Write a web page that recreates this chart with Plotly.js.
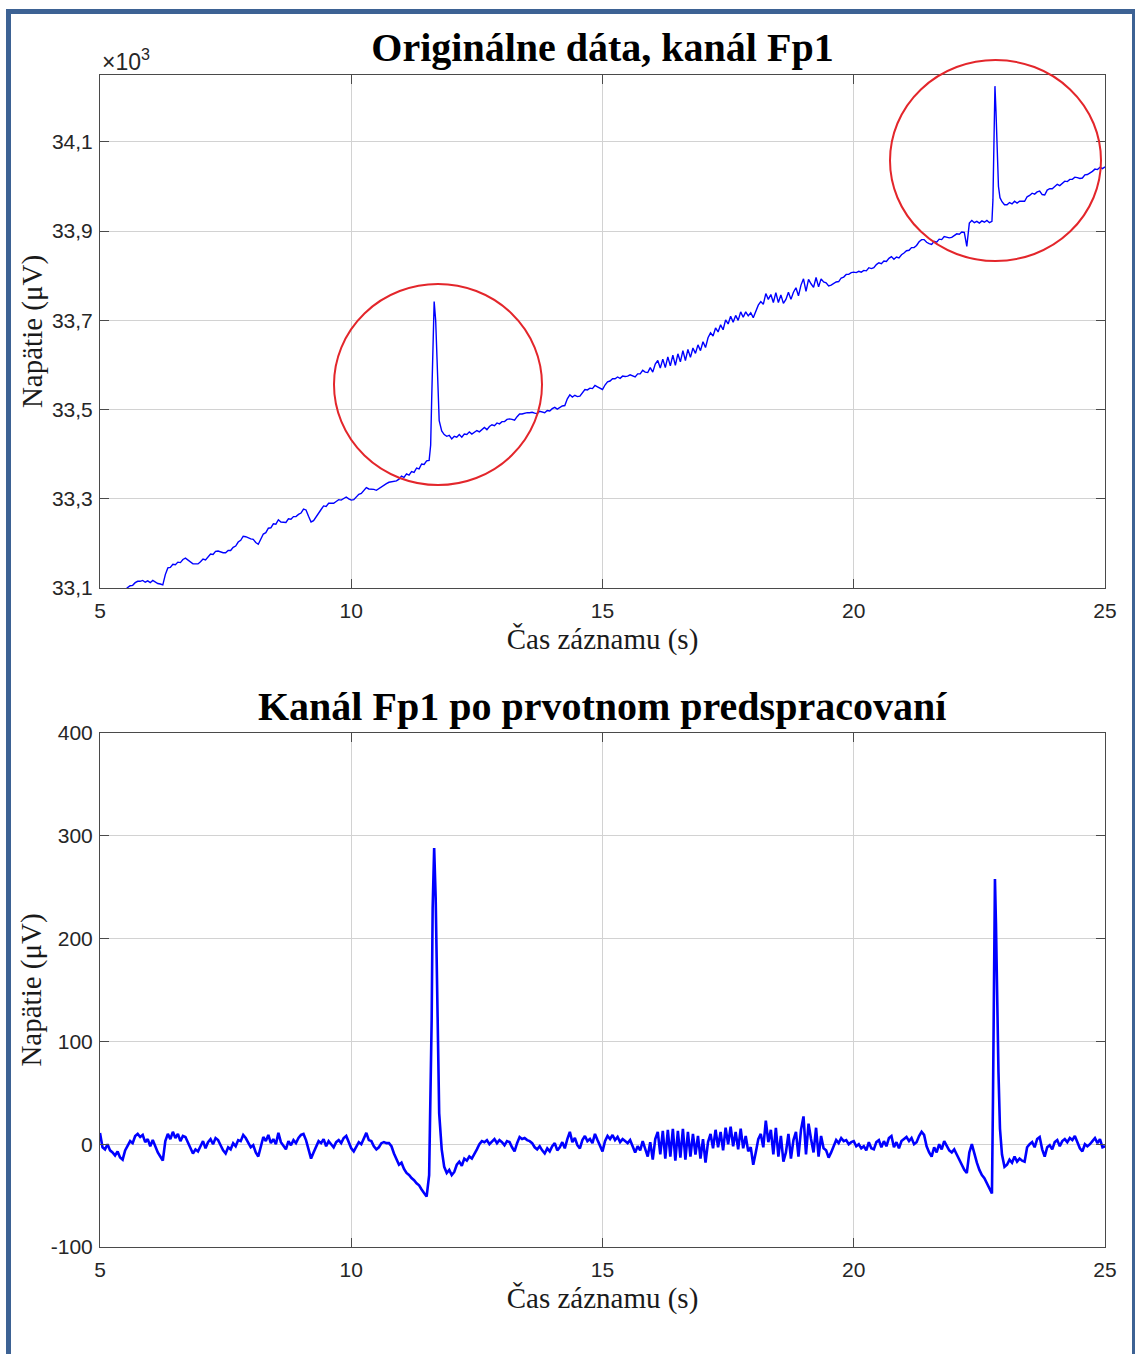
<!DOCTYPE html>
<html>
<head>
<meta charset="utf-8">
<script src="https://cdn.plot.ly/plotly-3.0.1.min.js"></script>
<style>
  html, body { margin: 0; padding: 0; background: #ffffff; }
  #chart { width: 1136px; height: 1354px; }
</style>
</head>
<body>
<div id="chart"></div>
<script>
// ---- time base (s) ----
const timeSec = [
  5,5.05,5.1,5.15,5.2,5.25,5.3,5.35,5.4,5.45,5.5,5.55,5.6,5.65,5.7,5.75,5.8,5.85,5.9,5.95,
  6,6.05,6.1,6.15,6.2,6.25,6.3,6.35,6.4,6.45,6.5,6.55,6.6,6.65,6.7,6.75,6.8,6.85,6.9,6.95,
  7,7.05,7.1,7.15,7.2,7.25,7.3,7.35,7.4,7.45,7.5,7.55,7.6,7.65,7.7,7.75,7.8,7.85,7.9,7.95,
  8,8.05,8.1,8.15,8.2,8.25,8.3,8.35,8.4,8.45,8.5,8.55,8.6,8.65,8.7,8.75,8.8,8.85,8.9,8.95,
  9,9.05,9.1,9.15,9.2,9.25,9.3,9.35,9.4,9.45,9.5,9.55,9.6,9.65,9.7,9.75,9.8,9.85,9.9,9.95,
  10,10.05,10.1,10.15,10.2,10.25,10.3,10.35,10.4,10.45,10.5,10.55,10.6,10.65,10.7,10.75,10.8,10.85,10.9,10.95,
  11,11.05,11.1,11.15,11.2,11.25,11.3,11.35,11.4,11.45,11.5,11.55,11.58,11.6,11.62,11.65,11.68,11.7,11.72,11.75,11.8,11.85,11.9,11.95,
  12,12.05,12.1,12.15,12.2,12.25,12.3,12.35,12.4,12.45,12.5,12.55,12.6,12.65,12.7,12.75,12.8,12.85,12.9,12.95,
  13,13.05,13.1,13.15,13.2,13.25,13.3,13.35,13.4,13.45,13.5,13.55,13.6,13.65,13.7,13.75,13.8,13.85,13.9,13.95,
  14,14.05,14.1,14.15,14.2,14.25,14.3,14.35,14.4,14.45,14.5,14.55,14.6,14.65,14.7,14.75,14.8,14.85,14.9,14.95,
  15,15.05,15.1,15.15,15.2,15.25,15.3,15.35,15.4,15.45,15.5,15.55,15.6,15.65,15.7,15.75,15.8,15.85,15.9,15.95,
  16,16.05,16.1,16.15,16.2,16.25,16.3,16.35,16.4,16.45,16.5,16.55,16.6,16.65,16.7,16.75,16.8,16.85,16.9,16.95,
  17,17.05,17.1,17.15,17.2,17.25,17.3,17.35,17.4,17.45,17.5,17.55,17.6,17.65,17.7,17.75,17.8,17.85,17.9,17.95,
  18,18.05,18.1,18.15,18.2,18.25,18.3,18.35,18.4,18.45,18.5,18.55,18.6,18.65,18.7,18.75,18.8,18.85,18.9,18.95,
  19,19.05,19.1,19.15,19.2,19.25,19.3,19.35,19.4,19.45,19.5,19.55,19.6,19.65,19.7,19.75,19.8,19.85,19.9,19.95,
  20,20.05,20.1,20.15,20.2,20.25,20.3,20.35,20.4,20.45,20.5,20.55,20.6,20.65,20.7,20.75,20.8,20.85,20.9,20.95,
  21,21.05,21.1,21.15,21.2,21.25,21.3,21.35,21.4,21.45,21.5,21.55,21.6,21.65,21.7,21.75,21.8,21.85,21.9,21.95,
  22,22.05,22.1,22.15,22.2,22.25,22.3,22.35,22.4,22.45,22.5,22.55,22.6,22.65,22.7,22.75,22.77,22.79,22.81,22.83,22.85,22.88,22.91,22.95,
  23,23.05,23.1,23.15,23.2,23.25,23.3,23.35,23.4,23.45,23.5,23.55,23.6,23.65,23.7,23.75,23.8,23.85,23.9,23.95,
  24,24.05,24.1,24.15,24.2,24.25,24.3,24.35,24.4,24.45,24.5,24.55,24.6,24.65,24.7,24.75,24.8,24.85,24.9,24.95,
  25
];

// ---- original data, channel Fp1 (x10^3 µV) ----
const rawFp1 = [
  33.083,33.076,33.076,33.083,33.081,33.082,33.082,33.088,33.086,33.087,33.096,33.101,33.105,33.106,33.112,33.115,33.115,33.117,33.113,33.116,
  33.112,33.117,33.113,33.110,33.109,33.107,33.130,33.145,33.146,33.153,33.152,33.158,33.157,33.164,33.167,33.163,33.158,33.154,33.154,33.154,
  33.159,33.165,33.163,33.170,33.176,33.175,33.182,33.183,33.181,33.179,33.179,33.184,33.184,33.191,33.194,33.203,33.207,33.216,33.215,33.212,
  33.210,33.209,33.202,33.198,33.208,33.221,33.224,33.234,33.235,33.244,33.243,33.253,33.248,33.248,33.247,33.255,33.254,33.260,33.260,33.265,
  33.268,33.277,33.275,33.261,33.248,33.251,33.260,33.270,33.276,33.284,33.283,33.290,33.290,33.290,33.294,33.298,33.297,33.301,33.304,33.300,
  33.297,33.298,33.304,33.310,33.312,33.319,33.325,33.322,33.322,33.321,33.319,33.323,33.328,33.331,33.334,33.337,33.338,33.338,33.340,33.344,
  33.351,33.348,33.356,33.353,33.361,33.359,33.369,33.367,33.378,33.377,33.385,33.386,33.420,33.520,33.640,33.742,33.700,33.620,33.540,33.475,33.452,33.444,33.440,33.442,
  33.434,33.440,33.438,33.444,33.438,33.445,33.444,33.450,33.445,33.450,33.453,33.450,33.456,33.460,33.455,33.462,33.466,33.464,33.470,33.468,
  33.473,33.473,33.478,33.479,33.478,33.476,33.484,33.490,33.490,33.492,33.493,33.493,33.494,33.492,33.491,33.496,33.494,33.493,33.498,33.497,
  33.502,33.505,33.501,33.504,33.508,33.509,33.524,33.533,33.528,33.532,33.529,33.530,33.539,33.545,33.544,33.548,33.547,33.554,33.551,33.548,
  33.545,33.555,33.562,33.564,33.569,33.569,33.573,33.570,33.575,33.574,33.575,33.578,33.575,33.573,33.580,33.580,33.588,33.584,33.583,33.594,
  33.584,33.602,33.610,33.593,33.613,33.594,33.618,33.598,33.622,33.599,33.625,33.607,33.632,33.610,33.635,33.617,33.638,33.626,33.645,33.632,
  33.652,33.639,33.661,33.672,33.665,33.683,33.674,33.690,33.679,33.701,33.692,33.709,33.696,33.711,33.700,33.719,33.707,33.719,33.710,33.717,
  33.706,33.720,33.734,33.742,33.736,33.760,33.747,33.758,33.740,33.762,33.740,33.757,33.738,33.747,33.763,33.747,33.763,33.773,33.755,33.779,
  33.793,33.765,33.792,33.782,33.774,33.796,33.775,33.793,33.786,33.784,33.777,33.779,33.782,33.786,33.787,33.795,33.797,33.803,33.803,33.807,
  33.808,33.807,33.810,33.808,33.812,33.811,33.818,33.816,33.818,33.825,33.829,33.827,33.833,33.832,33.839,33.843,33.837,33.842,33.840,33.847,
  33.851,33.856,33.857,33.863,33.863,33.868,33.876,33.881,33.881,33.875,33.872,33.870,33.877,33.875,33.882,33.881,33.888,33.886,33.885,33.886,
  33.890,33.894,33.893,33.898,33.897,33.866,33.918,33.924,33.919,33.922,33.918,33.923,33.920,33.924,33.919,33.922,33.970,34.130,34.225,34.170,34.080,34.000,33.975,33.966,
  33.959,33.959,33.964,33.961,33.967,33.963,33.967,33.967,33.967,33.977,33.980,33.985,33.983,33.988,33.990,33.982,33.981,33.992,33.995,33.995,
  34.001,34.005,34.002,34.008,34.012,34.011,34.016,34.016,34.021,34.020,34.018,34.019,34.026,34.027,34.030,34.034,34.039,34.038,34.043,34.040,
  34.044
];

// ---- channel Fp1 after preprocessing (µV) ----
const cleanFp1 = [
  11,-3,-5,0,-6,-8,-11,-7,-13,-15,-6,-2,3,1,8,10,7,9,2,5,
  -2,4,-3,-8,-12,-16,3,10,5,12,6,10,3,8,7,2,-4,-9,-5,-7,
  -2,3,-4,2,5,0,6,4,-1,-6,-9,-3,-5,1,-2,4,3,9,6,1,
  -3,-1,-8,-12,-3,7,3,9,1,5,0,11,2,-2,-5,3,-1,4,1,6,
  9,10,4,-5,-14,-8,-3,3,1,5,-2,3,0,-3,2,4,1,6,8,1,
  -4,-7,-3,2,0,6,11,4,3,-2,-5,-3,1,2,1,1,-2,-9,-15,-20,
  -18,-24,-28,-30,-33,-35,-38,-40,-44,-48,-51,-30,40,120,230,288,240,170,100,30,-5,-22,-28,-25,
  -30,-27,-20,-17,-21,-14,-16,-12,-14,-10,-5,0,3,2,4,0,3,5,1,4,
  2,-1,3,2,-3,-7,1,7,5,6,4,3,1,-3,-5,-2,-6,-9,-4,-7,
  -2,1,-6,-3,2,-4,5,12,2,6,-1,-4,4,8,3,5,1,10,4,-2,
  -7,3,8,5,9,4,7,2,5,3,1,4,-3,-8,-2,-6,3,-5,-12,2,
  -15,5,12,-10,13,-14,14,-12,15,-16,13,-13,15,-15,12,-12,10,-10,8,-14,
  5,-18,2,10,-4,14,-3,12,-6,16,0,17,-2,12,-5,15,-4,8,-7,-3,
  -20,-8,5,10,-3,23,2,14,-10,16,-12,8,-17,-8,10,-14,4,12,-12,14,
  27,-10,20,5,-8,16,-12,8,-4,-6,-13,-8,-2,4,1,6,3,4,0,2,
  3,-2,0,-4,-2,-6,2,-4,-5,2,4,-3,3,-2,6,8,-3,2,-4,3,
  5,7,3,6,0,2,8,12,9,-2,-8,-12,-3,-8,0,-5,3,-2,-6,-8,
  -5,-10,-15,-20,-25,-28,-8,0,-10,-18,-25,-30,-33,-38,-44,-48,40,200,258,215,150,70,15,-10,
  -22,-20,-15,-18,-12,-17,-14,-16,-17,-3,0,2,-3,5,7,-5,-12,-3,-1,-5,
  2,4,-2,3,5,2,6,4,8,2,-4,-7,0,-2,0,3,6,1,5,-3,
  -2
];

// ---- ticks ----
const timeTicks = [5, 10, 15, 20, 25];
const timeTickText = ['5', '10', '15', '20', '25'];
const rawTicks = [33.1, 33.3, 33.5, 33.7, 33.9, 34.1];
const rawTickText = ['33,1', '33,3', '33,5', '33,7', '33,9', '34,1'];
const cleanTicks = [-100, 0, 100, 200, 300, 400];
const cleanTickText = ['-100', '0', '100', '200', '300', '400'];

// ---- texts ----
const titleTop = 'Originálne dáta, kanál Fp1';
const titleBottom = 'Kanál Fp1 po prvotnom predspracovaní';
const xLabel = 'Čas záznamu (s)';
const yLabel = 'Napätie (μV)';

// ---- page geometry ----
const W = 1136, H = 1354;
const M = {l: 100, r: 31, t: 75, b: 107};
const PW = W - M.l - M.r, PH = H - M.t - M.b;
const px2x = px => (px - M.l) / PW;
const py2y = py => (H - M.b - py) / PH;

const tickFont = {family: 'Liberation Sans, Arial, sans-serif', size: 21, color: '#262626'};
const labelFont = {family: 'Liberation Serif, Times New Roman, serif', size: 29, color: '#1a1a1a'};
const axisColor = '#4a4a4a';
const gridColor = '#d2d2d2';

function xAxis(anchor) {
  return {
    anchor: anchor, domain: [0, 1], range: [5, 25],
    tickmode: 'array', tickvals: timeTicks, ticktext: timeTickText,
    showgrid: true, gridcolor: gridColor, gridwidth: 1, zeroline: false,
    showline: true, linecolor: axisColor, linewidth: 1, mirror: 'ticks',
    ticks: 'inside', ticklen: 9, tickcolor: axisColor, tickwidth: 1,
    tickfont: tickFont, ticklabelstandoff: 4,
    title: {text: xLabel, font: labelFont, standoff: 7},
    automargin: false, fixedrange: true
  };
}
function yAxis(anchor, domain, range, tv, tt) {
  return {
    anchor: anchor, domain: domain, range: range,
    tickmode: 'array', tickvals: tv, ticktext: tt,
    showgrid: true, gridcolor: gridColor, gridwidth: 1, zeroline: false,
    showline: true, linecolor: axisColor, linewidth: 1, mirror: 'ticks',
    ticks: 'inside', ticklen: 9, tickcolor: axisColor, tickwidth: 1,
    tickfont: tickFont, ticklabelstandoff: 2,
    title: {text: yLabel, font: labelFont, standoff: 0},
    automargin: false, fixedrange: true
  };
}

const traces = [
  {x: timeSec, y: rawFp1, xaxis: 'x', yaxis: 'y', type: 'scatter', mode: 'lines',
   line: {color: '#0000ff', width: 1.4}, hoverinfo: 'skip'},
  {x: timeSec, y: cleanFp1, xaxis: 'x2', yaxis: 'y2', type: 'scatter', mode: 'lines',
   line: {color: '#0000ff', width: 2.6}, hoverinfo: 'skip'}
];

const border = '#3d6294';
const red = '#e3262b';

const layout = {
  width: W, height: H,
  margin: M,
  paper_bgcolor: '#ffffff', plot_bgcolor: '#ffffff',
  showlegend: false,
  font: {family: 'Liberation Sans, Arial, sans-serif', color: '#262626'},
  title: {
    text: '<b>' + titleTop + '</b>',
    font: {family: 'Liberation Serif, Times New Roman, serif', size: 40, color: '#000000'},
    x: 0.5, xref: 'paper', xanchor: 'center',
    y: 1 - 47 / H, yref: 'container', yanchor: 'middle'
  },
  xaxis: xAxis('y'),
  yaxis: yAxis('x', [py2y(588), 1], [33.1, 34.25], rawTicks, rawTickText),
  xaxis2: xAxis('y2'),
  yaxis2: yAxis('x2', [0, py2y(733)], [-100, 400], cleanTicks, cleanTickText),
  annotations: [
    {text: '<b>' + titleBottom + '</b>', xref: 'paper', yref: 'paper',
     x: 0.5, y: py2y(706), xanchor: 'center', yanchor: 'middle', showarrow: false,
     font: {family: 'Liberation Serif, Times New Roman, serif', size: 40, color: '#000000'}},
    {text: '×10<sup>3</sup>', xref: 'paper', yref: 'paper',
     x: px2x(100), y: py2y(60), xanchor: 'left', yanchor: 'middle', showarrow: false,
     font: {family: 'Liberation Sans, Arial, sans-serif', size: 23, color: '#262626'}}
  ],
  shapes: [
    {type: 'circle', xref: 'paper', yref: 'paper',
     x0: px2x(334), x1: px2x(542), y0: py2y(485), y1: py2y(284),
     line: {color: red, width: 2}, layer: 'above'},
    {type: 'circle', xref: 'paper', yref: 'paper',
     x0: px2x(890), x1: px2x(1101), y0: py2y(261), y1: py2y(60),
     line: {color: red, width: 2}, layer: 'above'},
    {type: 'line', xref: 'paper', yref: 'paper',
     x0: px2x(8.5), x1: px2x(8.5), y0: py2y(9), y1: py2y(1360),
     line: {color: border, width: 5}},
    {type: 'line', xref: 'paper', yref: 'paper',
     x0: px2x(6), x1: px2x(1135), y0: py2y(11.5), y1: py2y(11.5),
     line: {color: border, width: 5}},
    {type: 'line', xref: 'paper', yref: 'paper',
     x0: px2x(1133.5), x1: px2x(1133.5), y0: py2y(9), y1: py2y(1360),
     line: {color: border, width: 3}}
  ]
};

Plotly.newPlot('chart', traces, layout, {displayModeBar: false, staticPlot: true});
</script>
</body>
</html>
